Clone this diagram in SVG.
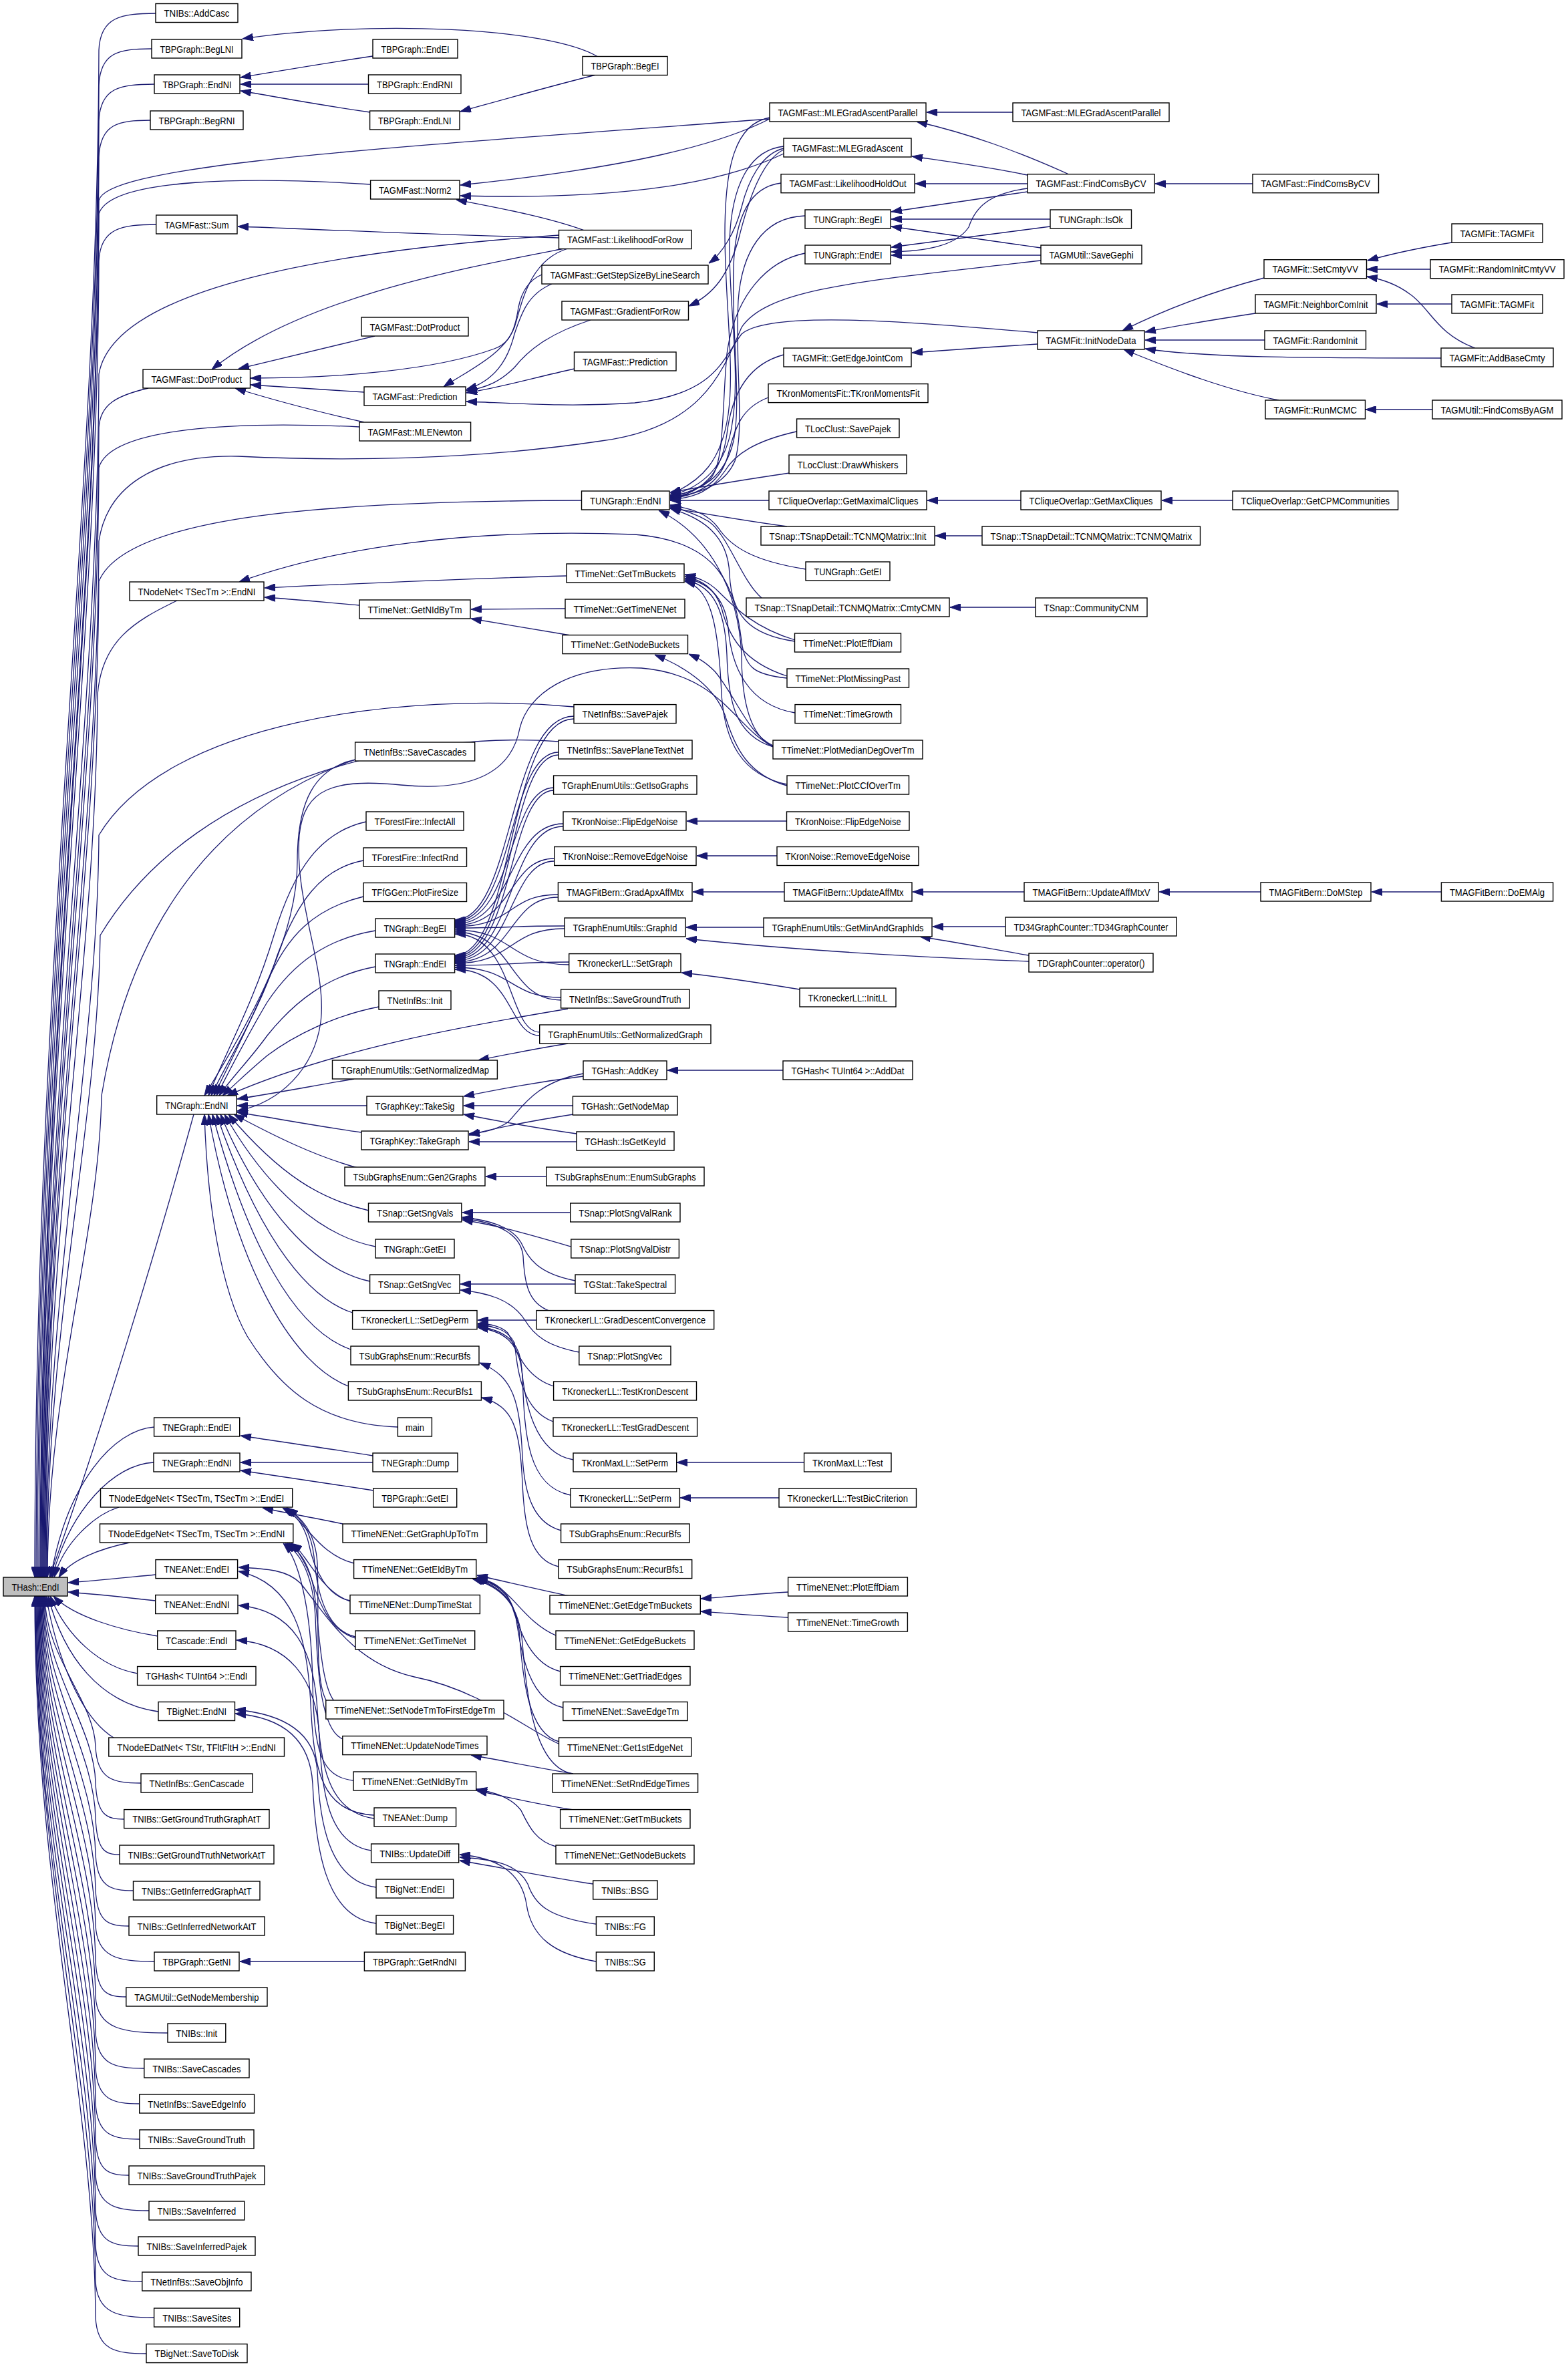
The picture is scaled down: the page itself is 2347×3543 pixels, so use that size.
<svg xmlns="http://www.w3.org/2000/svg" width="2347" height="3543" viewBox="0 0 2347 3543">
<defs>
<marker id="ah" viewBox="0 0 16 11" refX="16" refY="5.5" markerWidth="16" markerHeight="11" orient="auto" markerUnits="userSpaceOnUse"><path d="M0,0 L16,5.5 L0,11 Z" fill="#191970" stroke="#191970" stroke-width="1"/></marker>
<style>
.n rect{fill:#fff;stroke:#000;stroke-width:1.4}
.r rect{fill:#bfbfbf}
text{font-family:"Liberation Sans",Arial,Helvetica,sans-serif;font-size:15px;text-anchor:middle;fill:#000}
#edges path{fill:none;stroke:#191970;stroke-width:1.3;marker-end:url(#ah)}
</style>
</defs>
<rect width="2347" height="3543" fill="#fff"/>
<g id="edges">
<path d="M233 20 C182 20 150 25 148 75 C146 761 52 1447 52 2361"/>
<path d="M227 73 C178 73 150 78 148 128 C146 798 54 1468 54 2361"/>
<path d="M231 126 C180 126 150 131 148 181 C146 835 56 1489 56 2361"/>
<path d="M225 180 C178 180 150 185 148 235 C146 873 58 1511 58 2361"/>
<path d="M1152 178 C600 220 160 245 148 300 C146 918 60 1537 60 2361"/>
<path d="M555 276 C380 265 165 265 148 320 C146 932 61 1545 61 2361"/>
<path d="M234 336 C183 336 150 341 148 391 C146 982 62 1573 62 2361"/>
<path d="M837 352 C500 375 170 430 148 560 C146 1100 63 1641 63 2361"/>
<path d="M222 581 C175 592 150 605 148 640 C146 1156 64 1673 64 2361"/>
<path d="M538 639 C350 630 165 640 148 700 C146 1198 65 1697 65 2361"/>
<path d="M1558 390 C1300 420 1150 430 1110 490 C1080 560 1050 640 900 660 C700 690 500 690 357 683 C230 680 160 730 148 810 C146 1275 66 1741 66 2361"/>
<path d="M870 749 C500 750 190 770 148 870 C146 1317 67 1765 67 2361"/>
<path d="M265 899 C200 930 152 960 146 1040 C144 1436 68 1833 68 2361"/>
<path d="M859 1058 C600 1035 250 1080 148 1250 C146 1583 69 1917 69 2361"/>
<path d="M836 1110 C650 1095 300 1150 150 1400 C146 1688 70 1977 70 2361"/>
<path d="M532 1137 C350 1200 200 1350 152 1640 C148 1856 71 2073 71 2361"/>
<path d="M290 1668 C240 1850 150 2150 74 2361"/>
<path d="M231 2136 C170 2140 100 2220 76 2361"/>
<path d="M230 2189 C170 2192 105 2260 78 2361"/>
<path d="M178 2256 C140 2268 95 2310 81 2361"/>
<path d="M194 2309 C150 2318 105 2335 88 2361"/>
<path d="M233 2357 C180 2362 140 2366 102 2369"/>
<path d="M233 2396 C180 2390 140 2386 102 2383"/>
<path d="M236 2449 C180 2440 110 2420 80 2389"/>
<path d="M206 2505 C150 2495 100 2450 75 2389"/>
<path d="M237 2562 C150 2550 95 2480 72 2389"/>
<path d="M170 2601 C120 2570 85 2480 69 2389"/>
<path d="M211 2669 C170 2669 145 2664 143 2614 C141 2546 67 2479 67 2389"/>
<path d="M186 2723 C160 2723 145 2718 143 2668 C141 2584 66 2501 66 2389"/>
<path d="M179 2776 C158 2776 145 2771 143 2721 C141 2621 65 2522 65 2389"/>
<path d="M200 2830 C166 2830 145 2825 143 2775 C141 2659 64 2543 64 2389"/>
<path d="M193 2883 C163 2883 145 2878 143 2828 C141 2696 63 2565 63 2389"/>
<path d="M231 2936 C178 2936 145 2931 143 2881 C141 2733 62 2586 62 2389"/>
<path d="M189 2989 C161 2989 145 2984 143 2934 C141 2770 61 2607 61 2389"/>
<path d="M251 3043 C186 3043 145 3038 143 2988 C141 2808 60 2629 60 2389"/>
<path d="M216 3096 C172 3096 145 3091 143 3041 C141 2845 59 2650 59 2389"/>
<path d="M209 3149 C170 3149 145 3144 143 3094 C141 2882 58 2671 58 2389"/>
<path d="M209 3202 C170 3202 145 3197 143 3147 C141 2920 57 2692 57 2389"/>
<path d="M193 3256 C163 3256 145 3251 143 3201 C141 2957 56 2714 56 2389"/>
<path d="M223 3309 C175 3309 145 3304 143 3254 C141 2994 55 2735 55 2389"/>
<path d="M207 3362 C169 3362 145 3357 143 3307 C141 3032 54 2756 54 2389"/>
<path d="M213 3415 C171 3415 145 3410 143 3360 C141 3069 53 2777 53 2389"/>
<path d="M231 3469 C178 3469 145 3464 143 3414 C141 3107 53 2799 53 2389"/>
<path d="M219 3523 C173 3523 145 3518 143 3468 C141 3144 52 2821 52 2389"/>
<path d="M558 84 C470 97 420 106 360 116"/>
<path d="M552 126 L360 126"/>
<path d="M554 168 C470 156 420 146 360 136"/>
<path d="M895 85 C820 40 550 30 363 58"/>
<path d="M892 112 C820 130 750 150 689 167"/>
<path d="M1152 178 C1080 215 950 250 689 277"/>
<path d="M1173 230 C1090 270 950 300 689 293"/>
<path d="M875 345 C820 325 750 312 683 299"/>
<path d="M837 356 C600 350 450 342 356 339"/>
<path d="M561 503 C480 522 420 537 357 552"/>
<path d="M845 372 C700 400 450 445 317 553"/>
<path d="M811 411 C790 420 780 440 776 460 C770 500 760 515 740 522 C650 555 500 566 375 566"/>
<path d="M545 587 C480 583 420 579 375 576"/>
<path d="M545 632 C470 615 400 596 352 581"/>
<path d="M850 372 C790 390 780 460 770 490 C755 530 700 555 664 579"/>
<path d="M826 425 C790 440 780 470 770 500 C760 540 740 570 698 583"/>
<path d="M884 479 C820 500 790 525 770 550 C750 570 730 580 698 585"/>
<path d="M860 552 C800 565 750 580 698 588"/>
<path d="M1553 498 C1350 480 1150 465 1110 500 C1080 540 1070 590 950 603 C850 610 760 603 698 601"/>
<path d="M1173 222 C1140 230 1120 270 1110 310 C1100 350 1080 380 1061 394"/>
<path d="M1173 224 C1140 240 1120 300 1105 360 C1090 410 1070 440 1031 458"/>
<path d="M1516 168 L1387 168"/>
<path d="M1600 261 C1520 225 1450 200 1372 182"/>
<path d="M1538 262 C1480 250 1420 242 1365 234"/>
<path d="M1538 275 L1370 275"/>
<path d="M1875 275 L1729 275"/>
<path d="M1538 287 C1470 297 1400 307 1334 317"/>
<path d="M1572 328 L1334 328"/>
<path d="M1558 371 C1480 360 1400 349 1334 339"/>
<path d="M1572 339 C1490 350 1410 360 1334 370"/>
<path d="M1538 282 C1480 290 1460 310 1450 340 C1430 370 1380 376 1334 377"/>
<path d="M1558 382 L1334 382"/>
<path d="M1152 176 C1100 185 1085 250 1085 350 C1085 450 1100 550 1090 620 C1080 690 1050 720 1003 740"/>
<path d="M1173 219 C1120 225 1095 280 1092 360 C1090 450 1110 560 1095 640 C1085 700 1050 730 1003 742"/>
<path d="M1169 274 C1120 280 1100 330 1098 400 C1095 500 1110 600 1098 660 C1085 715 1050 735 1003 743"/>
<path d="M1205 323 C1140 325 1110 380 1105 450 C1100 550 1115 640 1100 690 C1085 725 1050 740 1003 744"/>
<path d="M1205 379 C1150 390 1100 440 1088 530 C1080 620 1085 700 1060 720 C1040 735 1020 740 1003 745"/>
<path d="M1173 531 C1120 545 1095 590 1088 650 C1080 710 1050 738 1003 746"/>
<path d="M1150 595 C1110 610 1100 640 1090 680 C1080 720 1050 740 1003 747"/>
<path d="M1192 646 C1130 660 1100 680 1085 705 C1065 735 1040 745 1003 748"/>
<path d="M1182 708 C1120 717 1060 727 1003 737"/>
<path d="M1151 749 L1003 749"/>
<path d="M1178 788 C1120 780 1060 770 1003 760"/>
<path d="M1206 852 C1130 840 1095 820 1075 790 C1060 770 1040 762 1003 756"/>
<path d="M1140 895 C1110 870 1090 800 1060 780 C1040 768 1020 763 1003 758"/>
<path d="M1190 960 C1120 950 1095 920 1092 860 C1090 800 1050 775 1003 761"/>
<path d="M1157 1118 C1120 1100 1110 1040 1110 980 C1105 880 1060 800 986 764"/>
<path d="M1190 958 C1130 940 1100 910 1075 885 C1060 870 1045 865 1025 860"/>
<path d="M1178 1012 C1110 990 1090 950 1080 910 C1070 880 1050 868 1025 863"/>
<path d="M1190 1067 C1120 1055 1095 1000 1090 940 C1085 890 1055 870 1025 866"/>
<path d="M1157 1118 C1100 1100 1090 1050 1088 980 C1085 900 1060 875 1025 868"/>
<path d="M1178 1174 C1110 1160 1085 1110 1080 1040 C1075 920 1060 880 1025 870"/>
<path d="M1157 1116 C1120 1100 1100 1040 1070 1005 C1055 990 1045 985 1031 979"/>
<path d="M1178 1176 C1120 1160 1100 1120 1085 1070 C1070 1030 1030 1000 980 980"/>
<path d="M846 911 L705 912"/>
<path d="M854 951 C800 942 750 934 705 926"/>
<path d="M848 862 C700 866 500 875 396 880"/>
<path d="M538 906 C480 901 440 897 396 894"/>
<path d="M1178 1015 C1130 1010 1115 1000 1110 960 C1100 880 1080 810 950 800 C700 790 500 820 358 871"/>
<path d="M1892 416 C1820 435 1750 460 1680 495"/>
<path d="M1879 469 C1820 478 1770 486 1714 497"/>
<path d="M1893 509 L1714 509"/>
<path d="M2157 536 C1950 536 1800 535 1714 522"/>
<path d="M1914 599 C1840 585 1760 555 1682 523"/>
<path d="M2173 363 C2130 370 2090 378 2047 390"/>
<path d="M2141 403 L2046 403"/>
<path d="M2208 521 C2150 500 2140 460 2110 440 C2090 425 2070 418 2046 414"/>
<path d="M2173 455 L2061 455"/>
<path d="M2144 613 L2044 613"/>
<path d="M1553 515 C1490 519 1430 523 1365 528"/>
<path d="M1528 749 L1388 749"/>
<path d="M1845 749 L1739 749"/>
<path d="M1470 802 L1400 802"/>
<path d="M1550 909 L1422 909"/>
<path d="M532 1137 C470 1150 445 1200 445 1290 C445 1400 380 1520 306 1640"/>
<path d="M1157 1117 C1100 1090 1080 1010 960 1000 C850 995 790 1040 778 1090 C765 1160 700 1185 600 1175 C500 1165 455 1180 448 1250 C440 1350 490 1450 480 1530 C470 1600 420 1650 355 1663"/>
<path d="M548 1230 C480 1245 440 1300 410 1400 C380 1500 340 1570 312 1640"/>
<path d="M544 1288 C480 1300 445 1350 415 1430 C390 1510 345 1580 316 1640"/>
<path d="M544 1342 C470 1360 430 1400 400 1470 C375 1530 345 1590 320 1640"/>
<path d="M562 1393 C490 1405 440 1440 400 1500 C370 1550 345 1600 324 1640"/>
<path d="M562 1447 C490 1460 440 1500 400 1550 C375 1585 345 1615 328 1640"/>
<path d="M567 1507 C500 1520 440 1550 400 1580 C370 1605 350 1625 333 1640"/>
<path d="M850 1510 C700 1535 500 1570 340 1640"/>
<path d="M530 1615 C470 1625 420 1635 355 1645"/>
<path d="M549 1655 L355 1655"/>
<path d="M541 1695 C470 1685 420 1675 355 1665"/>
<path d="M535 1748 C470 1730 410 1700 350 1668"/>
<path d="M552 1812 C480 1795 420 1760 342 1668"/>
<path d="M562 1866 C480 1850 400 1780 336 1668"/>
<path d="M554 1918 C470 1900 390 1810 330 1668"/>
<path d="M528 1965 C450 1940 380 1830 324 1668"/>
<path d="M525 2020 C440 1990 370 1860 318 1668"/>
<path d="M522 2075 C430 2040 350 1880 312 1668"/>
<path d="M595 2136 C480 2132 420 2080 370 2000 C330 1930 310 1800 306 1668"/>
<path d="M859 1072 C760 1072 770 1377 681 1377"/>
<path d="M836 1126 C760 1126 770 1379 681 1379"/>
<path d="M829 1179 C760 1179 770 1381 681 1381"/>
<path d="M843 1233 C760 1233 770 1383 681 1383"/>
<path d="M830 1285 C760 1285 770 1385 681 1385"/>
<path d="M835 1339 C760 1339 770 1387 681 1387"/>
<path d="M845 1386 C760 1386 770 1389 681 1389"/>
<path d="M852 1444 C760 1444 770 1392 681 1392"/>
<path d="M840 1497 C760 1497 770 1395 681 1395"/>
<path d="M808 1545 C760 1545 770 1398 681 1398"/>
<path d="M859 1076 C760 1076 770 1430 681 1430"/>
<path d="M836 1130 C760 1130 770 1432 681 1432"/>
<path d="M829 1183 C760 1183 770 1434 681 1434"/>
<path d="M843 1237 C760 1237 770 1436 681 1436"/>
<path d="M830 1289 C760 1289 770 1438 681 1438"/>
<path d="M835 1343 C760 1343 770 1440 681 1440"/>
<path d="M845 1390 C760 1390 770 1442 681 1442"/>
<path d="M852 1440 C760 1440 770 1445 681 1445"/>
<path d="M840 1493 C760 1493 770 1448 681 1448"/>
<path d="M808 1550 C760 1550 770 1451 681 1451"/>
<path d="M1177 1229 L1028 1229"/>
<path d="M1163 1281 L1043 1281"/>
<path d="M1174 1335 L1037 1335"/>
<path d="M1533 1335 L1366 1335"/>
<path d="M1887 1335 L1735 1335"/>
<path d="M2157 1335 L2053 1335"/>
<path d="M1143 1388 L1027 1388"/>
<path d="M1540 1439 C1300 1430 1150 1418 1027 1405"/>
<path d="M1505 1387 L1396 1387"/>
<path d="M1540 1430 C1480 1420 1430 1410 1377 1402"/>
<path d="M1197 1481 C1130 1470 1080 1462 1020 1456"/>
<path d="M850 1562 C800 1570 760 1578 716 1587"/>
<path d="M1172 1602 L999 1602"/>
<path d="M873 1611 C800 1620 750 1630 694 1641"/>
<path d="M857 1655 L694 1655"/>
<path d="M863 1697 C800 1688 750 1679 694 1668"/>
<path d="M873 1607 C800 1620 780 1660 760 1680 C740 1693 720 1696 702 1697"/>
<path d="M858 1668 C800 1677 750 1686 702 1699"/>
<path d="M863 1709 L702 1709"/>
<path d="M818 1761 L727 1761"/>
<path d="M854 1815 L692 1815"/>
<path d="M855 1866 C800 1850 750 1835 692 1826"/>
<path d="M861 1917 C800 1905 790 1880 780 1860 C765 1835 730 1826 692 1822"/>
<path d="M822 1962 C790 1950 785 1920 783 1880 C780 1850 750 1830 692 1824"/>
<path d="M861 1922 L689 1922"/>
<path d="M867 2024 C820 2015 800 2000 785 1975 C765 1945 730 1935 689 1931"/>
<path d="M803 1976 L715 1976"/>
<path d="M829 2075 C780 2060 770 2010 760 1995 C750 1985 735 1982 715 1981"/>
<path d="M828 2128 C780 2110 775 2050 770 2010 C760 1990 740 1985 715 1983"/>
<path d="M858 2185 C800 2175 785 2100 780 2040 C775 2000 745 1990 715 1985"/>
<path d="M854 2238 C790 2225 785 2150 782 2060 C778 2005 750 1992 715 1987"/>
<path d="M840 2291 C800 2280 785 2240 782 2180 C778 2100 770 2060 718 2040"/>
<path d="M836 2345 C795 2335 785 2290 782 2220 C778 2140 770 2105 721 2092"/>
<path d="M1204 2189 L1013 2189"/>
<path d="M1166 2242 L1018 2242"/>
<path d="M558 2179 C490 2168 420 2158 360 2149"/>
<path d="M558 2189 L360 2189"/>
<path d="M559 2231 C490 2220 420 2210 360 2201"/>
<path d="M513 2281 C470 2272 430 2265 393 2257"/>
<path d="M530 2340 C490 2330 470 2300 455 2285 C445 2272 435 2264 423 2257"/>
<path d="M524 2396 C490 2390 470 2350 462 2310 C455 2280 440 2266 426 2257"/>
<path d="M532 2450 C490 2440 475 2390 470 2330 C465 2285 445 2268 428 2257"/>
<path d="M490 2548 C470 2520 478 2420 475 2340 C472 2290 448 2270 430 2257"/>
<path d="M524 2397 C490 2385 470 2350 455 2330 C448 2320 442 2314 436 2310"/>
<path d="M532 2452 C490 2440 475 2390 465 2360 C455 2335 445 2318 433 2310"/>
<path d="M500 2546 C480 2520 478 2440 470 2380 C463 2340 448 2320 430 2310"/>
<path d="M513 2603 C480 2590 475 2500 472 2420 C468 2350 445 2322 427 2310"/>
<path d="M529 2665 C480 2660 470 2620 468 2520 C466 2400 445 2330 424 2310"/>
<path d="M560 2717 C480 2712 470 2650 465 2550 C460 2450 440 2370 357 2352"/>
<path d="M836 2610 C790 2590 720 2530 620 2510 C530 2490 490 2420 450 2370 C430 2350 400 2348 357 2346"/>
<path d="M560 2722 C490 2712 480 2640 475 2560 C470 2470 440 2410 357 2403"/>
<path d="M556 2770 C490 2760 482 2680 478 2600 C474 2510 430 2460 354 2455"/>
<path d="M563 2825 C490 2815 478 2720 475 2650 C470 2590 420 2565 352 2559"/>
<path d="M563 2879 C485 2870 472 2760 468 2670 C464 2600 420 2570 352 2565"/>
<path d="M853 2389 C800 2378 760 2368 714 2358"/>
<path d="M832 2448 C790 2430 770 2390 745 2375 C735 2368 725 2364 714 2361"/>
<path d="M839 2502 C790 2490 775 2430 765 2400 C755 2375 735 2366 714 2362"/>
<path d="M843 2556 C790 2545 780 2470 772 2420 C765 2385 740 2368 712 2363"/>
<path d="M837 2607 C790 2595 782 2510 777 2440 C772 2395 745 2372 710 2363"/>
<path d="M857 2655 C800 2645 788 2540 782 2460 C777 2400 750 2375 707 2363"/>
<path d="M858 2655 C800 2645 760 2637 705 2627"/>
<path d="M1180 2383 C1130 2386 1090 2390 1049 2393"/>
<path d="M1180 2421 C1130 2418 1090 2415 1049 2412"/>
<path d="M858 2709 C800 2700 760 2690 713 2680"/>
<path d="M832 2764 C800 2755 790 2730 780 2710 C765 2690 740 2683 713 2678"/>
<path d="M888 2820 C820 2810 760 2797 688 2785"/>
<path d="M892 2880 C820 2870 800 2850 790 2820 C775 2790 740 2783 688 2780"/>
<path d="M892 2936 C830 2925 795 2900 788 2850 C780 2800 740 2780 688 2776"/>
<path d="M545 2936 L359 2936"/>
</g>
<g id="nodes">
<g id="n0" class="n r"><rect x="5" y="2361" width="96" height="28"/><text x="53" y="2380.5" textLength="71" lengthAdjust="spacingAndGlyphs">THash::EndI</text></g>
<g id="n1" class="n"><rect x="233" y="5.5" width="123" height="28"/><text x="294.5" y="25" textLength="98" lengthAdjust="spacingAndGlyphs">TNIBs::AddCasc</text></g>
<g id="n2" class="n"><rect x="227" y="59" width="135" height="28"/><text x="294.5" y="78.5" textLength="110" lengthAdjust="spacingAndGlyphs">TBPGraph::BegLNI</text></g>
<g id="n3" class="n"><rect x="231" y="112" width="128" height="28"/><text x="295" y="131.5" textLength="103" lengthAdjust="spacingAndGlyphs">TBPGraph::EndNI</text></g>
<g id="n4" class="n"><rect x="225" y="166" width="139" height="28"/><text x="294.5" y="185.5" textLength="114" lengthAdjust="spacingAndGlyphs">TBPGraph::BegRNI</text></g>
<g id="n5" class="n"><rect x="558" y="59" width="127" height="28"/><text x="621.5" y="78.5" textLength="102" lengthAdjust="spacingAndGlyphs">TBPGraph::EndEI</text></g>
<g id="n6" class="n"><rect x="551.5" y="112" width="138.5" height="28"/><text x="620.8" y="131.5" textLength="113.5" lengthAdjust="spacingAndGlyphs">TBPGraph::EndRNI</text></g>
<g id="n7" class="n"><rect x="553.6" y="166" width="134.4" height="28"/><text x="620.8" y="185.5" textLength="109.4" lengthAdjust="spacingAndGlyphs">TBPGraph::EndLNI</text></g>
<g id="n8" class="n"><rect x="872" y="84.5" width="127" height="28"/><text x="935.5" y="104" textLength="102" lengthAdjust="spacingAndGlyphs">TBPGraph::BegEI</text></g>
<g id="n9" class="n"><rect x="554.6" y="270" width="133.4" height="28"/><text x="621.3" y="289.5" textLength="108.4" lengthAdjust="spacingAndGlyphs">TAGMFast::Norm2</text></g>
<g id="n10" class="n"><rect x="233.7" y="322" width="121.3" height="28"/><text x="294.4" y="341.5" textLength="96.3" lengthAdjust="spacingAndGlyphs">TAGMFast::Sum</text></g>
<g id="n11" class="n"><rect x="541" y="475" width="160" height="28"/><text x="621" y="494.5" textLength="135" lengthAdjust="spacingAndGlyphs">TAGMFast::DotProduct</text></g>
<g id="n12" class="n"><rect x="214" y="553" width="160.5" height="28"/><text x="294.3" y="572.5" textLength="135.5" lengthAdjust="spacingAndGlyphs">TAGMFast::DotProduct</text></g>
<g id="n13" class="n"><rect x="545" y="579" width="152" height="28"/><text x="621" y="598.5" textLength="127" lengthAdjust="spacingAndGlyphs">TAGMFast::Prediction</text></g>
<g id="n14" class="n"><rect x="538" y="632" width="166.6" height="28"/><text x="621.3" y="651.5" textLength="141.6" lengthAdjust="spacingAndGlyphs">TAGMFast::MLENewton</text></g>
<g id="n15" class="n"><rect x="194" y="871" width="201" height="28"/><text x="294.5" y="890.5" textLength="176" lengthAdjust="spacingAndGlyphs">TNodeNet&lt; TSecTm &gt;::EndNI</text></g>
<g id="n16" class="n"><rect x="1152" y="154" width="234" height="28"/><text x="1269" y="173.5" textLength="209" lengthAdjust="spacingAndGlyphs">TAGMFast::MLEGradAscentParallel</text></g>
<g id="n17" class="n"><rect x="1173" y="207" width="191" height="28"/><text x="1268.5" y="226.5" textLength="166" lengthAdjust="spacingAndGlyphs">TAGMFast::MLEGradAscent</text></g>
<g id="n18" class="n"><rect x="1169" y="260.7" width="200" height="28"/><text x="1269" y="280.2" textLength="175" lengthAdjust="spacingAndGlyphs">TAGMFast::LikelihoodHoldOut</text></g>
<g id="n19" class="n"><rect x="1205" y="314" width="128" height="28"/><text x="1269" y="333.5" textLength="103" lengthAdjust="spacingAndGlyphs">TUNGraph::BegEI</text></g>
<g id="n20" class="n"><rect x="1205" y="367" width="128" height="28"/><text x="1269" y="386.5" textLength="103" lengthAdjust="spacingAndGlyphs">TUNGraph::EndEI</text></g>
<g id="n21" class="n"><rect x="836.5" y="344.5" width="198.5" height="28"/><text x="935.8" y="364" textLength="173.5" lengthAdjust="spacingAndGlyphs">TAGMFast::LikelihoodForRow</text></g>
<g id="n22" class="n"><rect x="811" y="397" width="249" height="28"/><text x="935.5" y="416.5" textLength="224" lengthAdjust="spacingAndGlyphs">TAGMFast::GetStepSizeByLineSearch</text></g>
<g id="n23" class="n"><rect x="841" y="451" width="189.5" height="28"/><text x="935.8" y="470.5" textLength="164.5" lengthAdjust="spacingAndGlyphs">TAGMFast::GradientForRow</text></g>
<g id="n24" class="n"><rect x="859.5" y="527" width="152.5" height="28"/><text x="935.8" y="546.5" textLength="127.5" lengthAdjust="spacingAndGlyphs">TAGMFast::Prediction</text></g>
<g id="n25" class="n"><rect x="1173" y="521" width="191" height="28"/><text x="1268.5" y="540.5" textLength="166" lengthAdjust="spacingAndGlyphs">TAGMFit::GetEdgeJointCom</text></g>
<g id="n26" class="n"><rect x="1150" y="574.6" width="239" height="28"/><text x="1269.5" y="594.1" textLength="214" lengthAdjust="spacingAndGlyphs">TKronMomentsFit::TKronMomentsFit</text></g>
<g id="n27" class="n"><rect x="1192.6" y="627" width="153.4" height="28"/><text x="1269.3" y="646.5" textLength="128.4" lengthAdjust="spacingAndGlyphs">TLocClust::SavePajek</text></g>
<g id="n28" class="n"><rect x="1181" y="681" width="176" height="28"/><text x="1269" y="700.5" textLength="151" lengthAdjust="spacingAndGlyphs">TLocClust::DrawWhiskers</text></g>
<g id="n29" class="n"><rect x="870.5" y="735" width="131.5" height="28"/><text x="936.3" y="754.5" textLength="106.5" lengthAdjust="spacingAndGlyphs">TUNGraph::EndNI</text></g>
<g id="n30" class="n"><rect x="1151" y="735" width="236" height="28"/><text x="1269" y="754.5" textLength="211" lengthAdjust="spacingAndGlyphs">TCliqueOverlap::GetMaximalCliques</text></g>
<g id="n31" class="n"><rect x="1139" y="788" width="260" height="28"/><text x="1269" y="807.5" textLength="235" lengthAdjust="spacingAndGlyphs">TSnap::TSnapDetail::TCNMQMatrix::Init</text></g>
<g id="n32" class="n"><rect x="1206" y="841" width="126" height="28"/><text x="1269" y="860.5" textLength="101" lengthAdjust="spacingAndGlyphs">TUNGraph::GetEI</text></g>
<g id="n33" class="n"><rect x="848" y="844" width="176" height="28"/><text x="936" y="863.5" textLength="151" lengthAdjust="spacingAndGlyphs">TTimeNet::GetTmBuckets</text></g>
<g id="n34" class="n"><rect x="1516" y="154" width="234" height="28"/><text x="1633" y="173.5" textLength="209" lengthAdjust="spacingAndGlyphs">TAGMFast::MLEGradAscentParallel</text></g>
<g id="n35" class="n"><rect x="1538" y="260.7" width="190" height="28"/><text x="1633" y="280.2" textLength="165" lengthAdjust="spacingAndGlyphs">TAGMFast::FindComsByCV</text></g>
<g id="n36" class="n"><rect x="1875" y="260.7" width="188.5" height="28"/><text x="1969.3" y="280.2" textLength="163.5" lengthAdjust="spacingAndGlyphs">TAGMFast::FindComsByCV</text></g>
<g id="n37" class="n"><rect x="1572" y="314" width="121.5" height="28"/><text x="1632.8" y="333.5" textLength="96.5" lengthAdjust="spacingAndGlyphs">TUNGraph::IsOk</text></g>
<g id="n38" class="n"><rect x="1558" y="367" width="151" height="28"/><text x="1633.5" y="386.5" textLength="126" lengthAdjust="spacingAndGlyphs">TAGMUtil::SaveGephi</text></g>
<g id="n39" class="n"><rect x="2173" y="335" width="136" height="28"/><text x="2241" y="354.5" textLength="111" lengthAdjust="spacingAndGlyphs">TAGMFit::TAGMFit</text></g>
<g id="n40" class="n"><rect x="1892" y="388.7" width="153.5" height="28"/><text x="1968.8" y="408.2" textLength="128.5" lengthAdjust="spacingAndGlyphs">TAGMFit::SetCmtyVV</text></g>
<g id="n41" class="n"><rect x="2141" y="388.7" width="200" height="28"/><text x="2241" y="408.2" textLength="175" lengthAdjust="spacingAndGlyphs">TAGMFit::RandomInitCmtyVV</text></g>
<g id="n42" class="n"><rect x="1879" y="441" width="181" height="28"/><text x="1969.5" y="460.5" textLength="156" lengthAdjust="spacingAndGlyphs">TAGMFit::NeighborComInit</text></g>
<g id="n43" class="n"><rect x="2173" y="441" width="136" height="28"/><text x="2241" y="460.5" textLength="111" lengthAdjust="spacingAndGlyphs">TAGMFit::TAGMFit</text></g>
<g id="n44" class="n"><rect x="1553" y="495" width="160" height="28"/><text x="1633" y="514.5" textLength="135" lengthAdjust="spacingAndGlyphs">TAGMFit::InitNodeData</text></g>
<g id="n45" class="n"><rect x="1893" y="495" width="151.5" height="28"/><text x="1968.8" y="514.5" textLength="126.5" lengthAdjust="spacingAndGlyphs">TAGMFit::RandomInit</text></g>
<g id="n46" class="n"><rect x="2157" y="521" width="168" height="28"/><text x="2241" y="540.5" textLength="143" lengthAdjust="spacingAndGlyphs">TAGMFit::AddBaseCmty</text></g>
<g id="n47" class="n"><rect x="1894" y="599" width="149.5" height="28"/><text x="1968.8" y="618.5" textLength="124.5" lengthAdjust="spacingAndGlyphs">TAGMFit::RunMCMC</text></g>
<g id="n48" class="n"><rect x="2144" y="599" width="194" height="28"/><text x="2241" y="618.5" textLength="169" lengthAdjust="spacingAndGlyphs">TAGMUtil::FindComsByAGM</text></g>
<g id="n49" class="n"><rect x="1528" y="735" width="210" height="28"/><text x="1633" y="754.5" textLength="185" lengthAdjust="spacingAndGlyphs">TCliqueOverlap::GetMaxCliques</text></g>
<g id="n50" class="n"><rect x="1845" y="735" width="247.6" height="28"/><text x="1968.8" y="754.5" textLength="222.6" lengthAdjust="spacingAndGlyphs">TCliqueOverlap::GetCPMCommunities</text></g>
<g id="n51" class="n"><rect x="1470" y="788" width="326.5" height="28"/><text x="1633.3" y="807.5" textLength="301.5" lengthAdjust="spacingAndGlyphs">TSnap::TSnapDetail::TCNMQMatrix::TCNMQMatrix</text></g>
<g id="n52" class="n"><rect x="1550" y="895" width="167" height="28"/><text x="1633.5" y="914.5" textLength="142" lengthAdjust="spacingAndGlyphs">TSnap::CommunityCNM</text></g>
<g id="n53" class="n"><rect x="538" y="898" width="166" height="28"/><text x="621" y="917.5" textLength="141" lengthAdjust="spacingAndGlyphs">TTimeNet::GetNIdByTm</text></g>
<g id="n54" class="n"><rect x="846" y="897" width="179" height="28"/><text x="935.5" y="916.5" textLength="154" lengthAdjust="spacingAndGlyphs">TTimeNet::GetTimeNENet</text></g>
<g id="n55" class="n"><rect x="1117" y="895" width="304" height="28"/><text x="1269" y="914.5" textLength="279" lengthAdjust="spacingAndGlyphs">TSnap::TSnapDetail::TCNMQMatrix::CmtyCMN</text></g>
<g id="n56" class="n"><rect x="842" y="950.6" width="187.5" height="28"/><text x="935.8" y="970.1" textLength="162.5" lengthAdjust="spacingAndGlyphs">TTimeNet::GetNodeBuckets</text></g>
<g id="n57" class="n"><rect x="1189.5" y="948" width="159" height="28"/><text x="1269" y="967.5" textLength="134" lengthAdjust="spacingAndGlyphs">TTimeNet::PlotEffDiam</text></g>
<g id="n58" class="n"><rect x="1178" y="1001" width="182.5" height="28"/><text x="1269.3" y="1020.5" textLength="157.5" lengthAdjust="spacingAndGlyphs">TTimeNet::PlotMissingPast</text></g>
<g id="n59" class="n"><rect x="1190" y="1054.6" width="158.5" height="28"/><text x="1269.3" y="1074.1" textLength="133.5" lengthAdjust="spacingAndGlyphs">TTimeNet::TimeGrowth</text></g>
<g id="n60" class="n"><rect x="859" y="1054.6" width="153" height="28"/><text x="935.5" y="1074.1" textLength="128" lengthAdjust="spacingAndGlyphs">TNetInfBs::SavePajek</text></g>
<g id="n61" class="n"><rect x="836" y="1108" width="200" height="28"/><text x="936" y="1127.5" textLength="175" lengthAdjust="spacingAndGlyphs">TNetInfBs::SavePlaneTextNet</text></g>
<g id="n62" class="n"><rect x="1157" y="1108" width="224" height="28"/><text x="1269" y="1127.5" textLength="199" lengthAdjust="spacingAndGlyphs">TTimeNet::PlotMedianDegOverTm</text></g>
<g id="n63" class="n"><rect x="828.6" y="1161" width="214.4" height="28"/><text x="935.8" y="1180.5" textLength="189.4" lengthAdjust="spacingAndGlyphs">TGraphEnumUtils::GetIsoGraphs</text></g>
<g id="n64" class="n"><rect x="1178" y="1161" width="182.5" height="28"/><text x="1269.3" y="1180.5" textLength="157.5" lengthAdjust="spacingAndGlyphs">TTimeNet::PlotCCfOverTm</text></g>
<g id="n65" class="n"><rect x="531.6" y="1111" width="179.1" height="28"/><text x="621.2" y="1130.5" textLength="154.1" lengthAdjust="spacingAndGlyphs">TNetInfBs::SaveCascades</text></g>
<g id="n66" class="n"><rect x="548" y="1215" width="146" height="28"/><text x="621" y="1234.5" textLength="121" lengthAdjust="spacingAndGlyphs">TForestFire::InfectAll</text></g>
<g id="n67" class="n"><rect x="544" y="1269" width="154.5" height="28"/><text x="621.3" y="1288.5" textLength="129.5" lengthAdjust="spacingAndGlyphs">TForestFire::InfectRnd</text></g>
<g id="n68" class="n"><rect x="544" y="1321.5" width="154.5" height="28"/><text x="621.3" y="1341" textLength="129.5" lengthAdjust="spacingAndGlyphs">TFfGGen::PlotFireSize</text></g>
<g id="n69" class="n"><rect x="562" y="1375" width="118.6" height="28"/><text x="621.3" y="1394.5" textLength="93.6" lengthAdjust="spacingAndGlyphs">TNGraph::BegEI</text></g>
<g id="n70" class="n"><rect x="562" y="1428" width="118.6" height="28"/><text x="621.3" y="1447.5" textLength="93.6" lengthAdjust="spacingAndGlyphs">TNGraph::EndEI</text></g>
<g id="n71" class="n"><rect x="567" y="1483" width="108" height="28"/><text x="621" y="1502.5" textLength="83" lengthAdjust="spacingAndGlyphs">TNetInfBs::Init</text></g>
<g id="n72" class="n"><rect x="497.5" y="1587" width="246.9" height="28"/><text x="621" y="1606.5" textLength="221.9" lengthAdjust="spacingAndGlyphs">TGraphEnumUtils::GetNormalizedMap</text></g>
<g id="n73" class="n"><rect x="234.7" y="1640" width="119.3" height="28"/><text x="294.4" y="1659.5" textLength="94.3" lengthAdjust="spacingAndGlyphs">TNGraph::EndNI</text></g>
<g id="n74" class="n"><rect x="549" y="1641" width="144" height="28"/><text x="621" y="1660.5" textLength="119" lengthAdjust="spacingAndGlyphs">TGraphKey::TakeSig</text></g>
<g id="n75" class="n"><rect x="541" y="1693" width="160" height="28"/><text x="621" y="1712.5" textLength="135" lengthAdjust="spacingAndGlyphs">TGraphKey::TakeGraph</text></g>
<g id="n76" class="n"><rect x="516" y="1747" width="210" height="28"/><text x="621" y="1766.5" textLength="185" lengthAdjust="spacingAndGlyphs">TSubGraphsEnum::Gen2Graphs</text></g>
<g id="n77" class="n"><rect x="843" y="1215" width="184" height="28"/><text x="935" y="1234.5" textLength="159" lengthAdjust="spacingAndGlyphs">TKronNoise::FlipEdgeNoise</text></g>
<g id="n78" class="n"><rect x="1177.5" y="1215" width="183.5" height="28"/><text x="1269.3" y="1234.5" textLength="158.5" lengthAdjust="spacingAndGlyphs">TKronNoise::FlipEdgeNoise</text></g>
<g id="n79" class="n"><rect x="829.7" y="1267.5" width="212.3" height="28"/><text x="935.9" y="1287" textLength="187.3" lengthAdjust="spacingAndGlyphs">TKronNoise::RemoveEdgeNoise</text></g>
<g id="n80" class="n"><rect x="1163" y="1267.5" width="212" height="28"/><text x="1269" y="1287" textLength="187" lengthAdjust="spacingAndGlyphs">TKronNoise::RemoveEdgeNoise</text></g>
<g id="n81" class="n"><rect x="835.4" y="1321" width="200.6" height="28"/><text x="935.7" y="1340.5" textLength="175.6" lengthAdjust="spacingAndGlyphs">TMAGFitBern::GradApxAffMtx</text></g>
<g id="n82" class="n"><rect x="1174" y="1321" width="191" height="28"/><text x="1269.5" y="1340.5" textLength="166" lengthAdjust="spacingAndGlyphs">TMAGFitBern::UpdateAffMtx</text></g>
<g id="n83" class="n"><rect x="1533" y="1321" width="201" height="28"/><text x="1633.5" y="1340.5" textLength="176" lengthAdjust="spacingAndGlyphs">TMAGFitBern::UpdateAffMtxV</text></g>
<g id="n84" class="n"><rect x="1887" y="1321" width="165" height="28"/><text x="1969.5" y="1340.5" textLength="140" lengthAdjust="spacingAndGlyphs">TMAGFitBern::DoMStep</text></g>
<g id="n85" class="n"><rect x="2157.4" y="1321" width="167.2" height="28"/><text x="2241" y="1340.5" textLength="142.2" lengthAdjust="spacingAndGlyphs">TMAGFitBern::DoEMAlg</text></g>
<g id="n86" class="n"><rect x="845" y="1374" width="181" height="28"/><text x="935.5" y="1393.5" textLength="156" lengthAdjust="spacingAndGlyphs">TGraphEnumUtils::GraphId</text></g>
<g id="n87" class="n"><rect x="1143" y="1374" width="252" height="28"/><text x="1269" y="1393.5" textLength="227" lengthAdjust="spacingAndGlyphs">TGraphEnumUtils::GetMinAndGraphIds</text></g>
<g id="n88" class="n"><rect x="1505" y="1373" width="256" height="28"/><text x="1633" y="1392.5" textLength="231" lengthAdjust="spacingAndGlyphs">TD34GraphCounter::TD34GraphCounter</text></g>
<g id="n89" class="n"><rect x="1540" y="1427" width="186" height="28"/><text x="1633" y="1446.5" textLength="161" lengthAdjust="spacingAndGlyphs">TDGraphCounter::operator()</text></g>
<g id="n90" class="n"><rect x="851.7" y="1427.6" width="167.3" height="28"/><text x="935.4" y="1447.1" textLength="142.3" lengthAdjust="spacingAndGlyphs">TKroneckerLL::SetGraph</text></g>
<g id="n91" class="n"><rect x="1197" y="1479" width="144" height="28"/><text x="1269" y="1498.5" textLength="119" lengthAdjust="spacingAndGlyphs">TKroneckerLL::InitLL</text></g>
<g id="n92" class="n"><rect x="839.6" y="1481" width="192.4" height="28"/><text x="935.8" y="1500.5" textLength="167.4" lengthAdjust="spacingAndGlyphs">TNetInfBs::SaveGroundTruth</text></g>
<g id="n93" class="n"><rect x="807.7" y="1534" width="256.3" height="28"/><text x="935.9" y="1553.5" textLength="231.3" lengthAdjust="spacingAndGlyphs">TGraphEnumUtils::GetNormalizedGraph</text></g>
<g id="n94" class="n"><rect x="873" y="1588" width="125" height="28"/><text x="935.5" y="1607.5" textLength="100" lengthAdjust="spacingAndGlyphs">TGHash::AddKey</text></g>
<g id="n95" class="n"><rect x="1172" y="1588" width="194" height="28"/><text x="1269" y="1607.5" textLength="169" lengthAdjust="spacingAndGlyphs">TGHash&lt; TUInt64 &gt;::AddDat</text></g>
<g id="n96" class="n"><rect x="857.4" y="1641" width="156.6" height="28"/><text x="935.7" y="1660.5" textLength="131.6" lengthAdjust="spacingAndGlyphs">TGHash::GetNodeMap</text></g>
<g id="n97" class="n"><rect x="863" y="1694" width="146" height="28"/><text x="936" y="1713.5" textLength="121" lengthAdjust="spacingAndGlyphs">TGHash::IsGetKeyId</text></g>
<g id="n98" class="n"><rect x="817.7" y="1747" width="236.3" height="28"/><text x="935.9" y="1766.5" textLength="211.3" lengthAdjust="spacingAndGlyphs">TSubGraphsEnum::EnumSubGraphs</text></g>
<g id="n99" class="n"><rect x="551.5" y="1801" width="139.3" height="28"/><text x="621.2" y="1820.5" textLength="114.3" lengthAdjust="spacingAndGlyphs">TSnap::GetSngVals</text></g>
<g id="n100" class="n"><rect x="562" y="1855" width="118" height="28"/><text x="621" y="1874.5" textLength="93" lengthAdjust="spacingAndGlyphs">TNGraph::GetEI</text></g>
<g id="n101" class="n"><rect x="553.6" y="1908" width="134.4" height="28"/><text x="620.8" y="1927.5" textLength="109.4" lengthAdjust="spacingAndGlyphs">TSnap::GetSngVec</text></g>
<g id="n102" class="n"><rect x="527.6" y="1961.6" width="186.4" height="28"/><text x="620.8" y="1981.1" textLength="161.4" lengthAdjust="spacingAndGlyphs">TKroneckerLL::SetDegPerm</text></g>
<g id="n103" class="n"><rect x="525" y="2015" width="192" height="28"/><text x="621" y="2034.5" textLength="167" lengthAdjust="spacingAndGlyphs">TSubGraphsEnum::RecurBfs</text></g>
<g id="n104" class="n"><rect x="521.4" y="2068" width="199" height="28"/><text x="620.9" y="2087.5" textLength="174" lengthAdjust="spacingAndGlyphs">TSubGraphsEnum::RecurBfs1</text></g>
<g id="n105" class="n"><rect x="595.4" y="2122" width="51" height="28"/><text x="620.9" y="2141.5" textLength="28" lengthAdjust="spacingAndGlyphs">main</text></g>
<g id="n106" class="n"><rect x="230.6" y="2122" width="128.1" height="28"/><text x="294.7" y="2141.5" textLength="103.1" lengthAdjust="spacingAndGlyphs">TNEGraph::EndEI</text></g>
<g id="n107" class="n"><rect x="230" y="2175" width="129" height="28"/><text x="294.5" y="2194.5" textLength="104" lengthAdjust="spacingAndGlyphs">TNEGraph::EndNI</text></g>
<g id="n108" class="n"><rect x="558" y="2175" width="127" height="28"/><text x="621.5" y="2194.5" textLength="102" lengthAdjust="spacingAndGlyphs">TNEGraph::Dump</text></g>
<g id="n109" class="n"><rect x="150.5" y="2228" width="287.2" height="28"/><text x="294.1" y="2247.5" textLength="262.2" lengthAdjust="spacingAndGlyphs">TNodeEdgeNet&lt; TSecTm, TSecTm &gt;::EndEI</text></g>
<g id="n110" class="n"><rect x="558.7" y="2228" width="125" height="28"/><text x="621.2" y="2247.5" textLength="100" lengthAdjust="spacingAndGlyphs">TBPGraph::GetEI</text></g>
<g id="n111" class="n"><rect x="149.5" y="2281" width="289.3" height="28"/><text x="294.2" y="2300.5" textLength="264.3" lengthAdjust="spacingAndGlyphs">TNodeEdgeNet&lt; TSecTm, TSecTm &gt;::EndNI</text></g>
<g id="n112" class="n"><rect x="513" y="2281" width="215.6" height="28"/><text x="620.8" y="2300.5" textLength="190.6" lengthAdjust="spacingAndGlyphs">TTimeNENet::GetGraphUpToTm</text></g>
<g id="n113" class="n"><rect x="233" y="2334.6" width="122.6" height="28"/><text x="294.3" y="2354.1" textLength="97.6" lengthAdjust="spacingAndGlyphs">TNEANet::EndEI</text></g>
<g id="n114" class="n"><rect x="529.6" y="2334.6" width="183.2" height="28"/><text x="621.2" y="2354.1" textLength="158.2" lengthAdjust="spacingAndGlyphs">TTimeNENet::GetEIdByTm</text></g>
<g id="n115" class="n"><rect x="232.7" y="2387.5" width="123.3" height="28"/><text x="294.4" y="2407" textLength="98.3" lengthAdjust="spacingAndGlyphs">TNEANet::EndNI</text></g>
<g id="n116" class="n"><rect x="524" y="2387.5" width="194.4" height="28"/><text x="621.2" y="2407" textLength="169.4" lengthAdjust="spacingAndGlyphs">TTimeNENet::DumpTimeStat</text></g>
<g id="n117" class="n"><rect x="235.7" y="2441" width="117.3" height="28"/><text x="294.4" y="2460.5" textLength="92.3" lengthAdjust="spacingAndGlyphs">TCascade::EndI</text></g>
<g id="n118" class="n"><rect x="532" y="2441" width="178.7" height="28"/><text x="621.4" y="2460.5" textLength="153.7" lengthAdjust="spacingAndGlyphs">TTimeNENet::GetTimeNet</text></g>
<g id="n119" class="n"><rect x="205.6" y="2494.5" width="177.4" height="28"/><text x="294.3" y="2514" textLength="152.4" lengthAdjust="spacingAndGlyphs">TGHash&lt; TUInt64 &gt;::EndI</text></g>
<g id="n120" class="n"><rect x="237" y="2547.5" width="114.5" height="28"/><text x="294.3" y="2567" textLength="89.5" lengthAdjust="spacingAndGlyphs">TBigNet::EndNI</text></g>
<g id="n121" class="n"><rect x="487.8" y="2545" width="266.2" height="28"/><text x="620.9" y="2564.5" textLength="241.2" lengthAdjust="spacingAndGlyphs">TTimeNENet::SetNodeTmToFirstEdgeTm</text></g>
<g id="n122" class="n"><rect x="162.8" y="2601" width="262.7" height="28"/><text x="294.2" y="2620.5" textLength="237.7" lengthAdjust="spacingAndGlyphs">TNodeEDatNet&lt; TStr, TFltFltH &gt;::EndNI</text></g>
<g id="n123" class="n"><rect x="512.8" y="2598.6" width="216.2" height="28"/><text x="620.9" y="2618.1" textLength="191.2" lengthAdjust="spacingAndGlyphs">TTimeNENet::UpdateNodeTimes</text></g>
<g id="n124" class="n"><rect x="211" y="2655" width="167" height="28"/><text x="294.5" y="2674.5" textLength="142" lengthAdjust="spacingAndGlyphs">TNetInfBs::GenCascade</text></g>
<g id="n125" class="n"><rect x="529" y="2652" width="183.7" height="28"/><text x="620.9" y="2671.5" textLength="158.7" lengthAdjust="spacingAndGlyphs">TTimeNENet::GetNIdByTm</text></g>
<g id="n126" class="n"><rect x="185.7" y="2708.6" width="217.3" height="28"/><text x="294.4" y="2728.1" textLength="192.3" lengthAdjust="spacingAndGlyphs">TNIBs::GetGroundTruthGraphAtT</text></g>
<g id="n127" class="n"><rect x="560" y="2706" width="122.6" height="28"/><text x="621.3" y="2725.5" textLength="97.6" lengthAdjust="spacingAndGlyphs">TNEANet::Dump</text></g>
<g id="n128" class="n"><rect x="179" y="2762" width="231" height="28"/><text x="294.5" y="2781.5" textLength="206" lengthAdjust="spacingAndGlyphs">TNIBs::GetGroundTruthNetworkAtT</text></g>
<g id="n129" class="n"><rect x="555.6" y="2760" width="131.1" height="28"/><text x="621.2" y="2779.5" textLength="106.1" lengthAdjust="spacingAndGlyphs">TNIBs::UpdateDiff</text></g>
<g id="n130" class="n"><rect x="199.5" y="2816" width="189.5" height="28"/><text x="294.3" y="2835.5" textLength="164.5" lengthAdjust="spacingAndGlyphs">TNIBs::GetInferredGraphAtT</text></g>
<g id="n131" class="n"><rect x="563" y="2813" width="115.6" height="28"/><text x="620.8" y="2832.5" textLength="90.6" lengthAdjust="spacingAndGlyphs">TBigNet::EndEI</text></g>
<g id="n132" class="n"><rect x="193" y="2869" width="203" height="28"/><text x="294.5" y="2888.5" textLength="178" lengthAdjust="spacingAndGlyphs">TNIBs::GetInferredNetworkAtT</text></g>
<g id="n133" class="n"><rect x="563" y="2867" width="115.6" height="28"/><text x="620.8" y="2886.5" textLength="90.6" lengthAdjust="spacingAndGlyphs">TBigNet::BegEI</text></g>
<g id="n134" class="n"><rect x="231" y="2922" width="127" height="28"/><text x="294.5" y="2941.5" textLength="102" lengthAdjust="spacingAndGlyphs">TBPGraph::GetNI</text></g>
<g id="n135" class="n"><rect x="545.4" y="2922" width="151" height="28"/><text x="620.9" y="2941.5" textLength="126" lengthAdjust="spacingAndGlyphs">TBPGraph::GetRndNI</text></g>
<g id="n136" class="n"><rect x="188.8" y="2975" width="211.2" height="28"/><text x="294.4" y="2994.5" textLength="186.2" lengthAdjust="spacingAndGlyphs">TAGMUtil::GetNodeMembership</text></g>
<g id="n137" class="n"><rect x="251" y="3029" width="86.8" height="28"/><text x="294.4" y="3048.5" textLength="61.8" lengthAdjust="spacingAndGlyphs">TNIBs::Init</text></g>
<g id="n138" class="n"><rect x="215.8" y="3082" width="157.2" height="28"/><text x="294.4" y="3101.5" textLength="132.2" lengthAdjust="spacingAndGlyphs">TNIBs::SaveCascades</text></g>
<g id="n139" class="n"><rect x="208.7" y="3135" width="171.9" height="28"/><text x="294.7" y="3154.5" textLength="146.9" lengthAdjust="spacingAndGlyphs">TNetInfBs::SaveEdgeInfo</text></g>
<g id="n140" class="n"><rect x="209" y="3188" width="171" height="28"/><text x="294.5" y="3207.5" textLength="146" lengthAdjust="spacingAndGlyphs">TNIBs::SaveGroundTruth</text></g>
<g id="n141" class="n"><rect x="193" y="3242" width="203" height="28"/><text x="294.5" y="3261.5" textLength="178" lengthAdjust="spacingAndGlyphs">TNIBs::SaveGroundTruthPajek</text></g>
<g id="n142" class="n"><rect x="223" y="3295" width="142.8" height="28"/><text x="294.4" y="3314.5" textLength="117.8" lengthAdjust="spacingAndGlyphs">TNIBs::SaveInferred</text></g>
<g id="n143" class="n"><rect x="207" y="3348" width="175" height="28"/><text x="294.5" y="3367.5" textLength="150" lengthAdjust="spacingAndGlyphs">TNIBs::SaveInferredPajek</text></g>
<g id="n144" class="n"><rect x="212.8" y="3401" width="163.2" height="28"/><text x="294.4" y="3420.5" textLength="138.2" lengthAdjust="spacingAndGlyphs">TNetInfBs::SaveObjInfo</text></g>
<g id="n145" class="n"><rect x="230.6" y="3455" width="128.1" height="28"/><text x="294.7" y="3474.5" textLength="103.1" lengthAdjust="spacingAndGlyphs">TNIBs::SaveSites</text></g>
<g id="n146" class="n"><rect x="219" y="3508.6" width="151" height="28"/><text x="294.5" y="3528.1" textLength="126" lengthAdjust="spacingAndGlyphs">TBigNet::SaveToDisk</text></g>
<g id="n147" class="n"><rect x="853.7" y="1801" width="164.3" height="28"/><text x="935.9" y="1820.5" textLength="139.3" lengthAdjust="spacingAndGlyphs">TSnap::PlotSngValRank</text></g>
<g id="n148" class="n"><rect x="854.8" y="1855" width="161.6" height="28"/><text x="935.6" y="1874.5" textLength="136.6" lengthAdjust="spacingAndGlyphs">TSnap::PlotSngValDistr</text></g>
<g id="n149" class="n"><rect x="861" y="1908" width="149.6" height="28"/><text x="935.8" y="1927.5" textLength="124.6" lengthAdjust="spacingAndGlyphs">TGStat::TakeSpectral</text></g>
<g id="n150" class="n"><rect x="803" y="1961.6" width="265.7" height="28"/><text x="935.9" y="1981.1" textLength="240.7" lengthAdjust="spacingAndGlyphs">TKroneckerLL::GradDescentConvergence</text></g>
<g id="n151" class="n"><rect x="866.8" y="2015" width="137.2" height="28"/><text x="935.4" y="2034.5" textLength="112.2" lengthAdjust="spacingAndGlyphs">TSnap::PlotSngVec</text></g>
<g id="n152" class="n"><rect x="828.6" y="2068" width="213.9" height="28"/><text x="935.6" y="2087.5" textLength="188.9" lengthAdjust="spacingAndGlyphs">TKroneckerLL::TestKronDescent</text></g>
<g id="n153" class="n"><rect x="828" y="2122" width="215.6" height="28"/><text x="935.8" y="2141.5" textLength="190.6" lengthAdjust="spacingAndGlyphs">TKroneckerLL::TestGradDescent</text></g>
<g id="n154" class="n"><rect x="858" y="2175" width="154.7" height="28"/><text x="935.4" y="2194.5" textLength="129.7" lengthAdjust="spacingAndGlyphs">TKronMaxLL::SetPerm</text></g>
<g id="n155" class="n"><rect x="1203.6" y="2175" width="130.4" height="28"/><text x="1268.8" y="2194.5" textLength="105.4" lengthAdjust="spacingAndGlyphs">TKronMaxLL::Test</text></g>
<g id="n156" class="n"><rect x="854" y="2228" width="163.4" height="28"/><text x="935.7" y="2247.5" textLength="138.4" lengthAdjust="spacingAndGlyphs">TKroneckerLL::SetPerm</text></g>
<g id="n157" class="n"><rect x="1166" y="2228" width="205.5" height="28"/><text x="1268.8" y="2247.5" textLength="180.5" lengthAdjust="spacingAndGlyphs">TKroneckerLL::TestBicCriterion</text></g>
<g id="n158" class="n"><rect x="839.6" y="2281" width="192.4" height="28"/><text x="935.8" y="2300.5" textLength="167.4" lengthAdjust="spacingAndGlyphs">TSubGraphsEnum::RecurBfs</text></g>
<g id="n159" class="n"><rect x="836" y="2334.6" width="199.7" height="28"/><text x="935.9" y="2354.1" textLength="174.7" lengthAdjust="spacingAndGlyphs">TSubGraphsEnum::RecurBfs1</text></g>
<g id="n160" class="n"><rect x="1179.6" y="2361" width="178.8" height="28"/><text x="1269" y="2380.5" textLength="153.8" lengthAdjust="spacingAndGlyphs">TTimeNENet::PlotEffDiam</text></g>
<g id="n161" class="n"><rect x="823" y="2388" width="225.3" height="28"/><text x="935.7" y="2407.5" textLength="200.3" lengthAdjust="spacingAndGlyphs">TTimeNENet::GetEdgeTmBuckets</text></g>
<g id="n162" class="n"><rect x="1179.6" y="2414" width="178.8" height="28"/><text x="1269" y="2433.5" textLength="153.8" lengthAdjust="spacingAndGlyphs">TTimeNENet::TimeGrowth</text></g>
<g id="n163" class="n"><rect x="832" y="2441" width="207" height="28"/><text x="935.5" y="2460.5" textLength="182" lengthAdjust="spacingAndGlyphs">TTimeNENet::GetEdgeBuckets</text></g>
<g id="n164" class="n"><rect x="838.6" y="2494.5" width="194.4" height="28"/><text x="935.8" y="2514" textLength="169.4" lengthAdjust="spacingAndGlyphs">TTimeNENet::GetTriadEdges</text></g>
<g id="n165" class="n"><rect x="842.8" y="2547.5" width="186.2" height="28"/><text x="935.9" y="2567" textLength="161.2" lengthAdjust="spacingAndGlyphs">TTimeNENet::SaveEdgeTm</text></g>
<g id="n166" class="n"><rect x="836.5" y="2601" width="198.2" height="28"/><text x="935.6" y="2620.5" textLength="173.2" lengthAdjust="spacingAndGlyphs">TTimeNENet::Get1stEdgeNet</text></g>
<g id="n167" class="n"><rect x="827" y="2655" width="217.6" height="28"/><text x="935.8" y="2674.5" textLength="192.6" lengthAdjust="spacingAndGlyphs">TTimeNENet::SetRndEdgeTimes</text></g>
<g id="n168" class="n"><rect x="838.6" y="2708.6" width="194.4" height="28"/><text x="935.8" y="2728.1" textLength="169.4" lengthAdjust="spacingAndGlyphs">TTimeNENet::GetTmBuckets</text></g>
<g id="n169" class="n"><rect x="832" y="2762" width="207" height="28"/><text x="935.5" y="2781.5" textLength="182" lengthAdjust="spacingAndGlyphs">TTimeNENet::GetNodeBuckets</text></g>
<g id="n170" class="n"><rect x="887.7" y="2815" width="96.3" height="28"/><text x="935.9" y="2834.5" textLength="71.3" lengthAdjust="spacingAndGlyphs">TNIBs::BSG</text></g>
<g id="n171" class="n"><rect x="892.4" y="2869" width="86.9" height="28"/><text x="935.9" y="2888.5" textLength="61.9" lengthAdjust="spacingAndGlyphs">TNIBs::FG</text></g>
<g id="n172" class="n"><rect x="892.4" y="2922" width="86.9" height="28"/><text x="935.9" y="2941.5" textLength="61.9" lengthAdjust="spacingAndGlyphs">TNIBs::SG</text></g>
</g>
</svg>
